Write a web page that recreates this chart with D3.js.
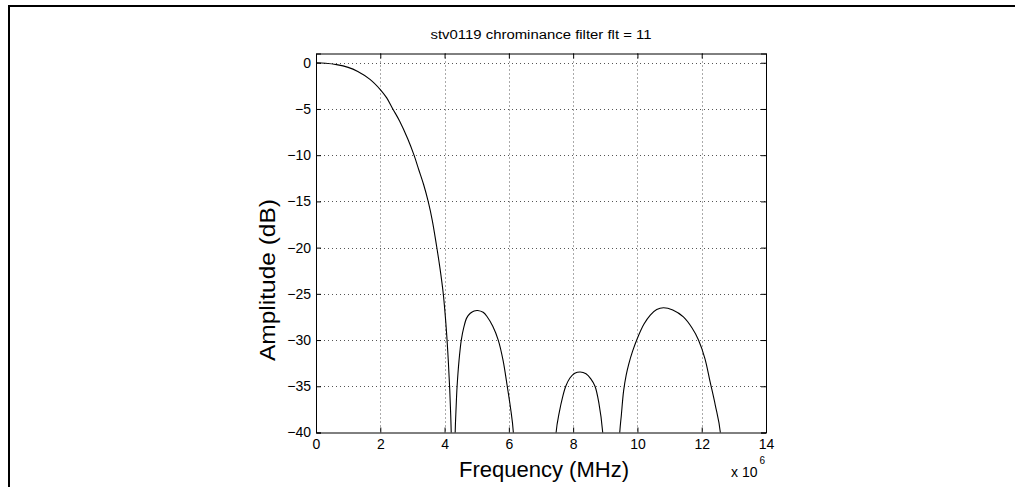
<!DOCTYPE html>
<html>
<head>
<meta charset="utf-8">
<script src="https://cdn.jsdelivr.net/npm/d3@7"></script>
<style>
  html, body { margin: 0; padding: 0; background: #fff; }
  svg { display: block; }
  text { font-family: "Liberation Sans", Arial, Helvetica, sans-serif; fill: #000; }
</style>
</head>
<body>
<svg id="chart" width="1015" height="487"></svg>
<script>
// ---- data ----
const chartTitle = "stv0119 chrominance filter flt = 11";
const xLabel = "Frequency (MHz)";
const yLabel = "Amplitude (dB)";
const xTicks = [0, 2, 4, 6, 8, 10, 12, 14];
const yTicks = [-40, -35, -30, -25, -20, -15, -10, -5, 0];
const xDomain = [0, 14];
const yDomain = [-40, 1];
// frequency in units of 10^6 Hz (values below -40 dB fall outside the axes and are clipped)
const freqMHz = [
  0, 0.3, 0.64, 1.0, 1.3, 1.68, 2.0, 2.2, 2.39, 2.6, 2.85, 3.05, 3.2, 3.35, 3.49, 3.62, 3.75, 3.86, 3.96, 4.02, 4.07, 4.12, 4.16, 4.19, 4.21, 4.27,
  4.33, 4.36, 4.39, 4.45, 4.52, 4.60, 4.69, 4.80, 4.92, 5.03, 5.2, 5.33, 5.5, 5.67, 5.82, 5.95, 6.05, 6.14, 6.25,
  7.35, 7.47, 7.57, 7.67, 7.77, 7.9, 8.05, 8.22, 8.4, 8.55, 8.68, 8.8, 8.92, 9.18,
  9.45, 9.5, 9.57, 9.65, 9.73, 9.85, 10.0, 10.2, 10.4, 10.6, 10.81, 11.1, 11.43, 11.7, 11.9, 12.1, 12.26, 12.42, 12.58, 12.7, 14];
const ampDb = [
  0, -0.05, -0.2, -0.5, -0.95, -1.8, -2.9, -3.8, -5.0, -6.3, -8.2, -10, -11.6, -13.2, -15.0, -17.1, -19.8, -22.3, -25.0, -27.3, -29.6, -32.5, -35.3, -38, -40.5, -55,
  -40, -37.2, -35, -32.2, -30, -28.6, -27.6, -27.1, -26.85, -26.8, -27.0, -27.5, -28.5, -30, -32.2, -35, -37.3, -40, -55,
  -55, -40, -37.8, -36.2, -35.0, -34.1, -33.6, -33.45, -33.65, -34.2, -35, -36.8, -40, -60,
  -40, -38.1, -35.5, -33.8, -32.6, -31.2, -29.8, -28.3, -27.3, -26.7, -26.5, -26.75, -27.5, -28.7, -30, -32.0, -34.5, -37.0, -40, -55, -55];

// ---- layout ----
const svg = d3.select("#chart");
const plot = { left: 316, right: 766, top: 53.5, bottom: 432.5 };

const x = d3.scaleLinear().domain(xDomain).range([plot.left, plot.right]);
const y = d3.scaleLinear().domain(yDomain).range([plot.bottom, plot.top]);

// outer document frame
svg.append("path")
  .attr("d", "M9,487 L9,6 L1015,6")
  .attr("fill", "none").attr("stroke", "#000").attr("stroke-width", 2);

// grid
const grid = svg.append("g").attr("stroke", "#555").attr("stroke-width", 1)
  .attr("stroke-dasharray", "1,3");
grid.selectAll(".gx").data(xTicks.filter(d => d > xDomain[0] && d < xDomain[1]))
  .enter().append("line")
  .attr("x1", d => Math.round(x(d)) + 0.5).attr("x2", d => Math.round(x(d)) + 0.5)
  .attr("y1", plot.top).attr("y2", plot.bottom);
grid.selectAll(".gy").data(yTicks.filter(d => d > yDomain[0] && d < yDomain[1]))
  .enter().append("line")
  .attr("y1", d => Math.round(y(d)) + 0.5).attr("y2", d => Math.round(y(d)) + 0.5)
  .attr("x1", plot.left).attr("x2", plot.right);

// curve
svg.append("clipPath").attr("id", "clip").append("rect")
  .attr("x", plot.left).attr("y", plot.top)
  .attr("width", plot.right - plot.left).attr("height", plot.bottom - plot.top);
const line = d3.line().x(d => x(d[0])).y(d => y(d[1])).curve(d3.curveCatmullRom.alpha(0.5));
svg.append("path")
  .datum(freqMHz.map((f, i) => [f, ampDb[i]]))
  .attr("clip-path", "url(#clip)")
  .attr("d", line)
  .attr("fill", "none").attr("stroke", "#000").attr("stroke-width", 1.1);

// axes (MATLAB-like: ticks inside on all four sides)
const tickLen = 5;
const fmt = d3.format("d");
const axB = svg.append("g").attr("transform", `translate(0,${plot.bottom})`)
  .call(d3.axisBottom(x).tickValues(xTicks).tickSize(-tickLen).tickPadding(7).tickFormat(fmt));
const axL = svg.append("g").attr("transform", `translate(${plot.left},0)`)
  .call(d3.axisLeft(y).tickValues(yTicks).tickSize(-tickLen).tickPadding(5).tickFormat(fmt));
const axT = svg.append("g").attr("transform", `translate(0,${plot.top})`)
  .call(d3.axisTop(x).tickValues(xTicks).tickSize(-tickLen).tickFormat(""));
const axR = svg.append("g").attr("transform", `translate(${plot.right},0)`)
  .call(d3.axisRight(y).tickValues(yTicks).tickSize(-tickLen).tickFormat(""));
[axB, axL, axT, axR].forEach(a => {
  a.select(".domain").attr("stroke", "#000").attr("stroke-width", 1);
  a.selectAll(".tick line").attr("stroke", "#000");
  a.selectAll("text").style("font-size", "14px")
    .style("font-family", "'Liberation Sans', Arial, sans-serif").attr("fill", "#000");
});

// title
svg.append("text")
  .attr("x", (plot.left + plot.right) / 2).attr("y", 39)
  .attr("text-anchor", "middle")
  .attr("textLength", 221).attr("lengthAdjust", "spacingAndGlyphs")
  .style("font-size", "12px").text(chartTitle);

// axis labels
svg.append("text")
  .attr("x", 544).attr("y", 477)
  .attr("text-anchor", "middle")
  .style("font-size", "22px").text(xLabel);
svg.append("text")
  .attr("transform", "translate(275,280) rotate(-90)")
  .attr("text-anchor", "middle")
  .attr("textLength", 162).attr("lengthAdjust", "spacingAndGlyphs")
  .style("font-size", "22px").text(yLabel);

// exponent
const ex = svg.append("text").attr("x", 731).attr("y", 477).style("font-size", "14px");
ex.append("tspan").text("x 10");
ex.append("tspan").attr("dx", 2).attr("dy", -13).style("font-size", "10px").text("6");
</script>
</body>
</html>
